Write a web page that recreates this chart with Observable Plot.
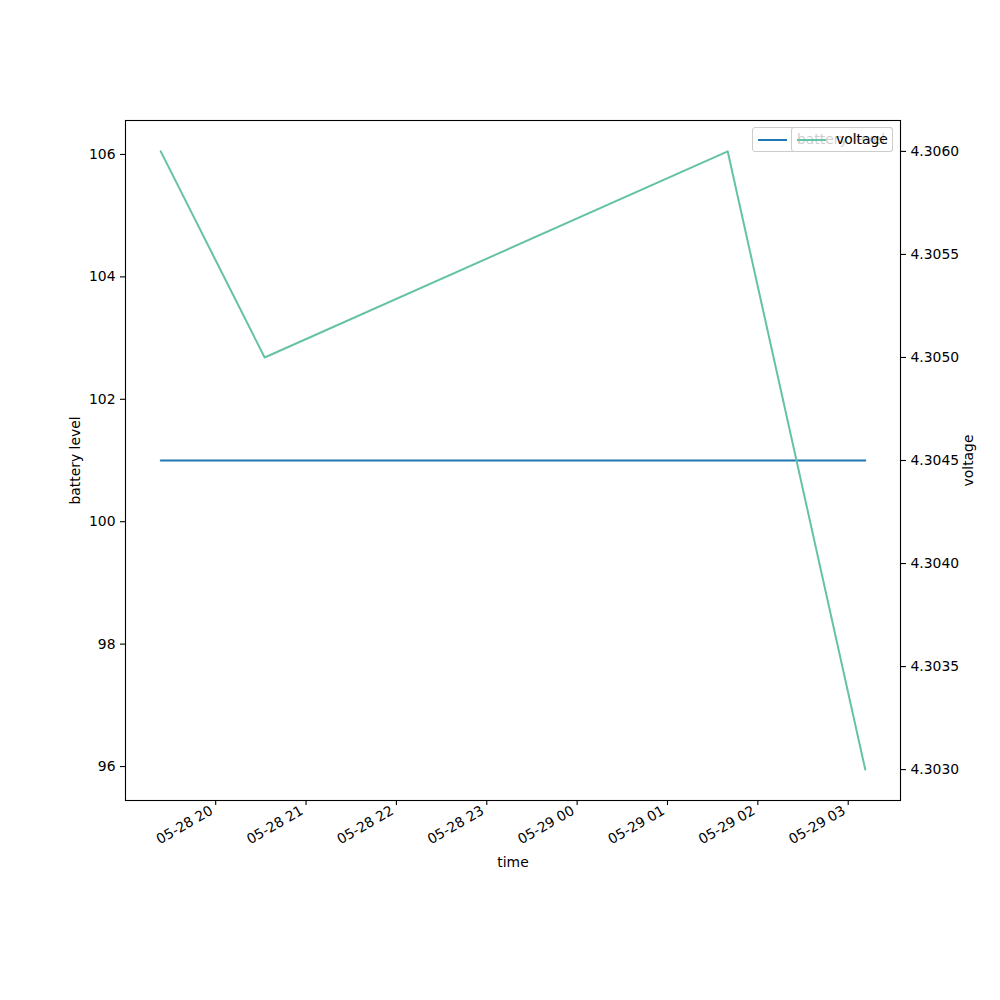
<!DOCTYPE html>
<html>
<head>
<meta charset="utf-8">
<script src="https://cdn.jsdelivr.net/npm/d3@7"></script>
<script src="https://cdn.jsdelivr.net/npm/@observablehq/plot@0.6"></script>
<style>
  html, body { margin: 0; padding: 0; background: #fff; }
  #wrap { position: relative; width: 1000px; height: 1000px; font-family: "DejaVu Sans", sans-serif; }
  #wrap svg { position: absolute; left: 0; top: 0; }
  .legend { position: absolute; box-sizing: border-box; height: 25px; border: 1px solid #cccccc; border-radius: 3px; background: rgba(255,255,255,0.8); font-size: 13.9px; }
  .legend .ln { position: absolute; top: 11px; height: 2px; width: 29px; }
  .legend .tx { position: absolute; top: 3px; white-space: nowrap; color: #000; }
</style>
</head>
<body>
<div id="wrap"></div>
<script>
// ---- data ----
const times = ["2023-05-28T19:23:30Z", "2023-05-28T20:32:30Z", "2023-05-29T01:40:00Z", "2023-05-29T03:11:20Z"];
const batteryLevel = [101, 101, 101, 101];
const voltage = [4.3060, 4.3050, 4.3060, 4.3030];
const batteryTicks = [96, 98, 100, 102, 104, 106];
const voltageTicks = [4.3030, 4.3035, 4.3040, 4.3045, 4.3050, 4.3055, 4.3060];
const seriesNames = ["battery level", "voltage"];
const seriesColors = ["#1f77b4", "#66c2a5"];

const dates = times.map(t => new Date(t));
const batteryData = dates.map((d, i) => ({time: d, value: batteryLevel[i]}));
const voltageData = dates.map((d, i) => ({time: d, value: voltage[i]}));

// x domain: data extent with 5% margins (matplotlib default)
const [t0, t1] = d3.extent(dates);
const pad = (t1 - t0) * 0.05;
const xDomain = [new Date(+t0 - pad), new Date(+t1 + pad)];
// left y: constant 101 expanded (nonsingular) then 5% margins
const yLeftDomain = [95.445, 106.555];
const vExt = d3.extent(voltage);
const vPad = (vExt[1] - vExt[0]) * 0.05;
const yRightDomain = [vExt[0] - vPad, vExt[1] + vPad];

const W = 1000, H = 1000;
const margins = {marginLeft: 125, marginRight: 100, marginTop: 120, marginBottom: 200};
const fontStyle = {fontFamily: "DejaVu Sans, sans-serif", fontSize: "13.9px", background: "transparent", color: "#000", overflow: "visible"};
const hourTicks = d3.utcHour.range(d3.utcHour.ceil(xDomain[0]), xDomain[1]);

const left = Plot.plot({
  width: W, height: H, ...margins,
  style: fontStyle,
  x: {type: "utc", domain: xDomain},
  y: {domain: yLeftDomain},
  marks: [
    Plot.frame({stroke: "#000", strokeWidth: 1.1}),
    Plot.axisX({ticks: hourTicks, tickFormat: null, text: null, tickSize: 5, strokeWidth: 1.1,
      label: "time", labelAnchor: "center", labelArrow: "none", labelOffset: 66}),
    Plot.axisX({ticks: hourTicks, tickFormat: d3.utcFormat("%m-%d %H"), tickRotate: -30, tickSize: 0, tickPadding: 3,
      dx: -4, dy: 6, label: null}),
    Plot.axisY({anchor: "left", ticks: batteryTicks, tickFormat: d => String(d), tickSize: 5, tickPadding: 5, strokeWidth: 1.1,
      label: "battery level", labelAnchor: "center", labelArrow: "none", labelOffset: 55}),
    Plot.lineY(batteryData, {x: "time", y: "value", stroke: seriesColors[0], strokeWidth: 2})
  ]
});

const right = Plot.plot({
  width: W, height: H, ...margins,
  style: fontStyle,
  x: {type: "utc", domain: xDomain, axis: null},
  y: {domain: yRightDomain, axis: null},
  marks: [
    Plot.axisY({anchor: "right", ticks: voltageTicks, tickFormat: d3.format(".4f"), tickSize: 5, tickPadding: 5, strokeWidth: 1.1,
      label: "voltage", labelAnchor: "center", labelArrow: "none", labelOffset: 72}),
    Plot.lineY(voltageData, {x: "time", y: "value", stroke: seriesColors[1], strokeWidth: 2})
  ]
});

const wrap = document.getElementById("wrap");
wrap.appendChild(left);
wrap.appendChild(right);

// overlapping legends (as in the reference: each axis drew its own legend)
function legend(name, color, leftPx, widthPx) {
  const box = document.createElement("div");
  box.className = "legend";
  box.style.left = leftPx + "px"; box.style.top = "127px"; box.style.width = widthPx + "px";
  const ln = document.createElement("div");
  ln.className = "ln"; ln.style.left = "5px"; ln.style.background = color;
  const tx = document.createElement("div");
  tx.className = "tx"; tx.style.left = "44px"; tx.textContent = name;
  box.appendChild(ln); box.appendChild(tx);
  wrap.appendChild(box);
}
legend(seriesNames[0], seriesColors[0], 752, 141);
legend(seriesNames[1], seriesColors[1], 791, 102);
</script>
</body>
</html>
